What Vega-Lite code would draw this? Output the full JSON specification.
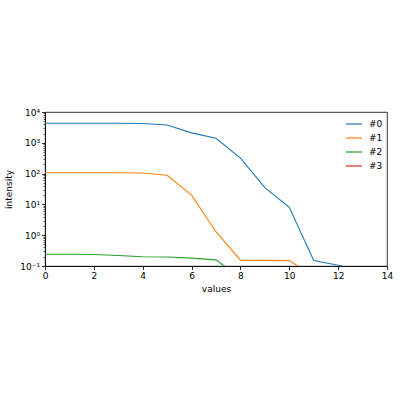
{
  "$schema": "https://vega.github.io/schema/vega-lite/v6.json",
  "autosize": "none",
  "width": 342,
  "height": 154,
  "padding": {"left": 45, "top": 112, "right": 13, "bottom": 134},
  "config": {
    "font": "DejaVu Sans",
    "view": {"stroke": "#000", "strokeWidth": 0.8},
    "axis": {
      "domainColor": "#000", "tickColor": "#000", "labelColor": "#000", "titleColor": "#000",
      "labelFontSize": 9, "titleFontSize": 9, "titleFontWeight": "normal",
      "grid": false, "tickSize": 3.5, "domainWidth": 0.8, "tickWidth": 0.8, "labelFlush": false
    }
  },
  "data": {
    "values": [
      {"x": 0, "y": 4300, "s": "#0"}, {"x": 1, "y": 4300, "s": "#0"}, {"x": 2, "y": 4300, "s": "#0"}, {"x": 3, "y": 4300, "s": "#0"}, {"x": 4, "y": 4250, "s": "#0"}, {"x": 5, "y": 3800, "s": "#0"}, {"x": 6, "y": 2100, "s": "#0"}, {"x": 7, "y": 1400, "s": "#0"}, {"x": 8, "y": 320, "s": "#0"}, {"x": 9, "y": 35, "s": "#0"}, {"x": 10, "y": 8, "s": "#0"}, {"x": 11, "y": 0.15, "s": "#0"}, {"x": 12, "y": 0.106, "s": "#0"}, {"x": 13, "y": 0.07, "s": "#0"}, {"x": 14, "y": 0.05, "s": "#0"},
      {"x": 0, "y": 107, "s": "#1"}, {"x": 1, "y": 107, "s": "#1"}, {"x": 2, "y": 107, "s": "#1"}, {"x": 3, "y": 107, "s": "#1"}, {"x": 4, "y": 105, "s": "#1"}, {"x": 5, "y": 88, "s": "#1"}, {"x": 6, "y": 20, "s": "#1"}, {"x": 7, "y": 1.3, "s": "#1"}, {"x": 8, "y": 0.155, "s": "#1"}, {"x": 9, "y": 0.152, "s": "#1"}, {"x": 10, "y": 0.15, "s": "#1"}, {"x": 11, "y": 0.047, "s": "#1"}, {"x": 12, "y": 0.03, "s": "#1"},
      {"x": 0, "y": 0.24, "s": "#2"}, {"x": 1, "y": 0.24, "s": "#2"}, {"x": 2, "y": 0.235, "s": "#2"}, {"x": 3, "y": 0.22, "s": "#2"}, {"x": 4, "y": 0.2, "s": "#2"}, {"x": 5, "y": 0.195, "s": "#2"}, {"x": 6, "y": 0.18, "s": "#2"}, {"x": 7, "y": 0.158, "s": "#2"}, {"x": 8, "y": 0.04, "s": "#2"}, {"x": 9, "y": 0.02, "s": "#2"},
      {"x": 0, "y": 0.01, "s": "#3"}, {"x": 5, "y": 0.01, "s": "#3"}, {"x": 10, "y": 0.005, "s": "#3"}
    ]
  },
  "layer": [
    {
      "mark": {"type": "line", "clip": true, "strokeWidth": 1.1},
      "encoding": {
        "x": {
          "field": "x", "type": "quantitative", "title": "values",
          "scale": {"domain": [0, 14], "nice": false, "zero": false},
          "axis": {"values": [0, 2, 4, 6, 8, 10, 12, 14], "titlePadding": 4}
        },
        "y": {
          "field": "y", "type": "quantitative", "title": "intensity",
          "scale": {"type": "log", "domain": [0.1, 10000], "nice": false},
          "axis": {
            "values": [0.1, 1, 10, 100, 1000, 10000],
            "labelExpr": "datum.value < 0.5 ? '10⁻¹' : datum.value < 5 ? '10⁰' : datum.value < 50 ? '10¹' : datum.value < 500 ? '10²' : datum.value < 5000 ? '10³' : '10⁴'",
            "titlePadding": 6
          }
        },
        "color": {
          "field": "s", "type": "nominal",
          "scale": {"domain": ["#0", "#1", "#2", "#3"], "range": ["#1f77b4", "#ff7f0e", "#2ca02c", "#d62728"]},
          "legend": {
            "title": null, "orient": "none", "legendX": 300, "legendY": 3, "symbolType": "stroke", "symbolStrokeWidth": 1.2,
            "symbolSize": 256, "labelFontSize": 9, "labelColor": "#000", "rowPadding": -8, "labelOffset": 6
          }
        }
      }
    },
    {
      "mark": {"type": "line", "opacity": 0, "clip": true},
      "encoding": {
        "x": {"field": "x", "type": "quantitative"},
        "y": {
          "field": "y", "type": "quantitative",
          "axis": {
            "orient": "left", "title": null, "labels": false, "domain": false, "tickSize": 2, "tickWidth": 0.6,
            "values": [0.2, 0.3, 0.4, 0.5, 0.6, 0.7, 0.8, 0.9, 2, 3, 4, 5, 6, 7, 8, 9, 20, 30, 40, 50, 60, 70, 80, 90, 200, 300, 400, 500, 600, 700, 800, 900, 2000, 3000, 4000, 5000, 6000, 7000, 8000, 9000]
          }
        },
        "detail": {"field": "s"}
      }
    }
  ],
  "resolve": {"axis": {"y": "independent"}}
}
